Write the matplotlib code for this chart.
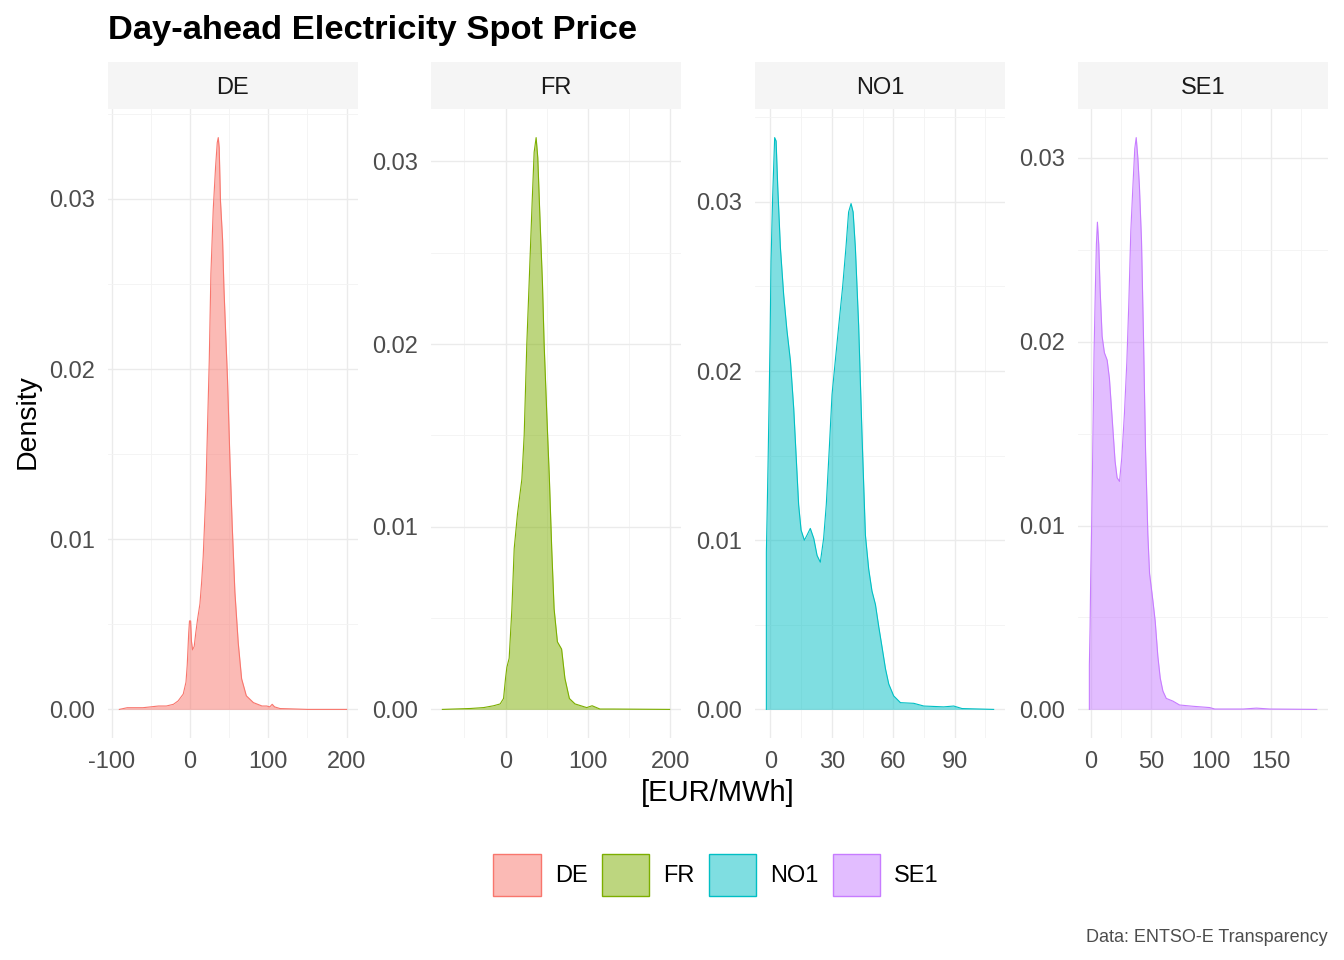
import matplotlib
matplotlib.use("Agg")
import matplotlib.pyplot as plt
from matplotlib.patches import Patch

plt.rcParams['font.family'] = ['Liberation Sans', 'DejaVu Sans']
plt.rcParams['axes.unicode_minus'] = False

# densities (price in EUR/MWh, density)
zones = ['DE', 'FR', 'NO1', 'SE1']
colors = ['#F8766D', '#7CAE00', '#00BFC4', '#C77CFF']

de_x = [-90, -80, -60, -40, -30, -21, -15, -8.5, -5, -3.4, -1.5, -0.5, 0.9, 2.0, 3.4, 5.5, 7.5,
        9.8, 12.8, 15, 17, 20.4, 22.5, 24.7, 26.8, 29.8, 32.8, 34.9, 36.2, 37.4, 39, 41.7, 43.4,
        46, 48, 51, 54, 57.4, 61.7, 66, 72, 81, 92, 98, 102, 105, 108, 115, 130, 150, 200]
de_y = [0.0, 0.0001, 0.0001, 0.0002, 0.0002, 0.0003, 0.0005, 0.0009, 0.0016, 0.0026, 0.0045,
        0.0052, 0.0052, 0.0040, 0.0035, 0.0037, 0.0045, 0.0053, 0.0062, 0.0075, 0.009, 0.0128,
        0.0166, 0.0205, 0.0256, 0.0294, 0.0319, 0.0333, 0.0336, 0.0330, 0.0299, 0.0276, 0.0248,
        0.0217, 0.0194, 0.0148, 0.0108, 0.0069, 0.0039, 0.0018, 0.0008, 0.0004, 0.0002, 0.0002,
        0.00015, 0.0003, 0.00015, 0.00005, 0.00003, 0.0, 0.0]

fr_x = [-76.6, -42.7, -26.6, -14.5, -6.5, -2.4, 0, 1.6, 4.4, 7.7, 10.5, 14.5, 19.8, 22.6, 25.8,
        29, 32.3, 34.7, 37.1, 39.1, 41.9, 44.8, 46.8, 50, 53.2, 56, 58.9, 62.9, 68, 72, 77.4,
        84.3, 98.4, 105, 114.5, 130.6, 199]
fr_y = [0.0, 0.00005, 0.0001, 0.0002, 0.0003, 0.0006, 0.0017, 0.0023, 0.0028, 0.0055, 0.0088,
        0.0107, 0.0126, 0.015, 0.02, 0.0238, 0.0278, 0.0305, 0.0313, 0.0302, 0.0267, 0.0233,
        0.02, 0.0162, 0.0126, 0.0088, 0.0055, 0.0037, 0.0033, 0.0017, 0.0006, 0.0003, 0.0001,
        0.0002, 0.00002, 0.00002, 0.0]

no_x = [-1.95, -1.95, -1.6, -1.1, -0.65, -0.16, 0.33, 1.1, 2.1, 2.8, 3.6, 4.9, 6.5, 8.1, 9.8,
        11.4, 12.7, 13.8, 15, 16.6, 17.9, 19.5, 21.2, 22.8, 24.4, 26, 27.3, 28.8, 30.1, 31.7,
        33.4, 35.3, 36.9, 38.2, 39.4, 40.4, 41.5, 43.1, 44.8, 46.4, 48, 49.6, 51.3, 52.9, 54.5,
        56.2, 57.8, 60.2, 63.5, 70, 74.9, 84.6, 89.5, 93.6, 109]
no_y = [0.0, 0.0093, 0.0114, 0.0147, 0.018, 0.0217, 0.0265, 0.0302, 0.0338, 0.0336, 0.0309,
        0.0273, 0.0245, 0.0224, 0.0206, 0.0178, 0.0147, 0.0121, 0.0106, 0.0100, 0.0103, 0.0107,
        0.0101, 0.0091, 0.0087, 0.0101, 0.0121, 0.0155, 0.0186, 0.0206, 0.0227, 0.025, 0.0273,
        0.0294, 0.0299, 0.0294, 0.0273, 0.0227, 0.016, 0.0103, 0.0083, 0.007, 0.0062, 0.0049,
        0.0037, 0.0024, 0.0015, 0.0008, 0.0004, 0.00036, 0.0002, 0.00015, 0.0002, 0.00005, 0.0]

se_x = [-1.4, -1.4, -0.8, -0.3, 0.56, 1.4, 2.5, 3.6, 4.45, 5.3, 6.4, 7.5, 9.2, 11.1, 13.4, 15.3,
        17.5, 20, 21.7, 23.7, 25.6, 27.8, 29.8, 31.4, 33.1, 34.8, 36.4, 37.6, 38.95, 40.3, 42,
        43.7, 45.4, 47.3, 48.7, 51.5, 53.4, 55.6, 57.6, 59.8, 62.6, 68.2, 73.7, 84.9, 98.8, 103,
        126.6, 137.7, 148.9, 187.8]
se_y = [0.0, 0.0024, 0.0045, 0.0071, 0.0102, 0.014, 0.0194, 0.0229, 0.0253, 0.0265, 0.0253,
        0.0229, 0.0203, 0.0194, 0.019, 0.018, 0.0159, 0.0135, 0.0126, 0.0124, 0.0137, 0.0161,
        0.0189, 0.022, 0.026, 0.0284, 0.0305, 0.0311, 0.030, 0.0284, 0.0255, 0.0201, 0.014,
        0.0095, 0.0074, 0.0059, 0.0048, 0.0029, 0.0017, 0.001, 0.0006, 0.00045, 0.00024,
        0.00017, 0.0001, 0.00002, 0.00002, 0.00007, 0.00002, 0.0]

xs = [de_x, fr_x, no_x, se_x]
ys = [de_y, fr_y, no_y, se_y]
xticks = [[-100, 0, 100, 200], [0, 100, 200], [0, 30, 60, 90], [0, 50, 100, 150]]
yticks = [0.0, 0.01, 0.02, 0.03]

W, H = 1344, 960
fig = plt.figure(figsize=(W / 100, H / 100), dpi=100)

panel_left = [108, 431, 755, 1078]
panel_w = 250
panel_top, panel_bot = 109, 738
strip_top, strip_bot = 62, 109

for i in range(4):
    ax = fig.add_axes([panel_left[i] / W, 1 - panel_bot / H, panel_w / W, (panel_bot - panel_top) / H])
    x, y = xs[i], ys[i]
    ax.fill_between(x, y, 0, color=colors[i], alpha=0.5, linewidth=0)
    ax.plot(x, y, color=colors[i], lw=0.8)
    ax.set_xticks(xticks[i])
    ax.set_yticks(yticks)
    ax.set_yticklabels(['%.2f' % v for v in yticks])
    step = xticks[i][1] - xticks[i][0]
    mx = [xticks[i][0] - step / 2] + [t + step / 2 for t in xticks[i]]
    ax.set_xticks(mx, minor=True)
    ax.set_yticks([0.005, 0.015, 0.025, 0.035], minor=True)
    # limits with the usual 5% expansion
    xr = max(x) - min(x)
    ax.set_xlim(min(x) - 0.05 * xr, max(x) + 0.05 * xr)
    yr = max(y)
    ax.set_ylim(-0.05 * yr, yr * 1.05)
    ax.grid(True, which='major', color='#EBEBEB', lw=1.0)
    ax.grid(True, which='minor', color='#F3F3F3', lw=0.6)
    ax.set_axisbelow(True)
    for s in ax.spines.values():
        s.set_visible(False)
    ax.tick_params(which='both', length=0, labelsize=17, labelcolor='#4D4D4D', pad=9.5)

    sax = fig.add_axes([panel_left[i] / W, 1 - strip_bot / H, panel_w / W, (strip_bot - strip_top) / H])
    sax.set_facecolor('#F5F5F5')
    sax.set_xticks([])
    sax.set_yticks([])
    for s in sax.spines.values():
        s.set_visible(False)
    sax.text(0.5, 0.45, zones[i], ha='center', va='center', fontsize=17, color='#1A1A1A',
             transform=sax.transAxes)

fig.text(108 / W, 1 - 31 / H, 'Day-ahead Electricity Spot Price', fontsize=24.8, fontweight='bold',
         ha='left', va='center')
fig.text(28 / W, 1 - 422 / H, 'Density', rotation=90, fontsize=20.5, ha='center', va='center')
fig.text(718 / W, 1 - 793 / H, '[EUR/MWh]', fontsize=21, ha='center', va='center')
fig.text(1328 / W, 1 - 937 / H, 'Data: ENTSO-E Transparency', fontsize=13, color='#4D4D4D',
         ha='right', va='center')

handles = [Patch(facecolor=matplotlib.colors.to_rgba(c, 0.5), edgecolor=c, lw=1) for c in colors]
fig.legend(handles, zones, loc='center', bbox_to_anchor=(716 / W, 1 - 875 / H), ncol=4,
           frameon=False, fontsize=17, handlelength=2.0, handleheight=2.4, handletextpad=0.6,
           columnspacing=0.6, borderaxespad=0, borderpad=0)

fig.savefig('out.png', dpi=100)
